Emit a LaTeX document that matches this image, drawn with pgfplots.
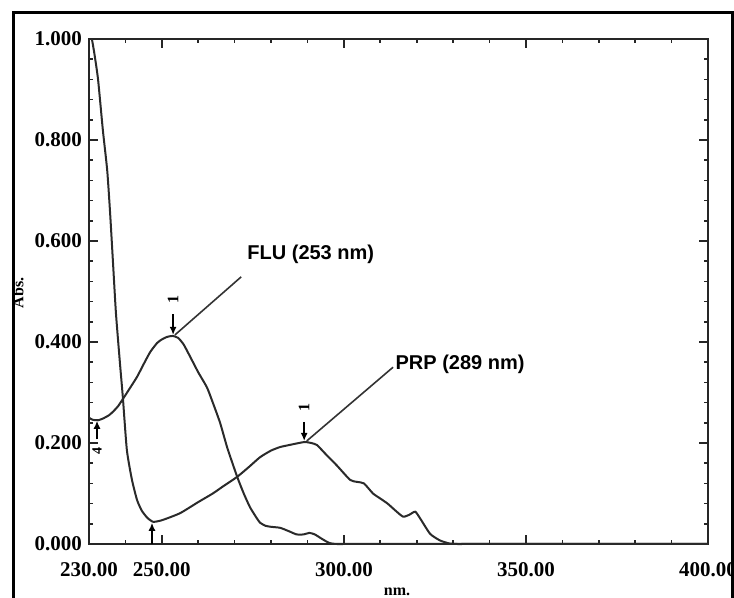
\documentclass[border=0pt]{standalone}
\usepackage{pgfplots}
\pgfplotsset{compat=1.18}
\usepackage{fontspec}
\setmainfont{Liberation Serif}
\newfontfamily\annfont{Liberation Sans}
\usetikzlibrary{arrows.meta}
\definecolor{Curve}{HTML}{2A2A2A}

% spectra (nm, Abs.)
\pgfplotstableread{
nm abs
230.8 1.000
231.5 0.970
232.5 0.919
233.8 0.820
235.0 0.740
235.8 0.655
236.6 0.556
237.4 0.457
238.5 0.358
239.3 0.290
240.4 0.186
241.8 0.127
243.2 0.087
244.5 0.066
246.0 0.052
247.6 0.044
250.0 0.047
255.0 0.061
260.0 0.083
264.0 0.100
267.0 0.115
270.7 0.133
274.0 0.153
277.0 0.172
280.0 0.185
282.5 0.192
285.0 0.196
287.0 0.199
289.3 0.202
291.0 0.200
292.6 0.196
295.0 0.178
298.0 0.156
301.7 0.127
303.6 0.123
305.5 0.120
308.0 0.100
310.0 0.090
312.0 0.080
314.5 0.064
316.3 0.054
318.0 0.058
319.6 0.064
321.0 0.050
323.7 0.020
326.4 0.007
329.0 0.001
331.0 0.000
333.0 0.000
336.0 0.000
400.0 0.000
}\prp

\pgfplotstableread{
nm abs
230.0 0.250
231.0 0.246
232.5 0.245
234.0 0.249
235.5 0.255
236.6 0.262
238.0 0.273
239.3 0.287
241.0 0.306
243.2 0.331
245.0 0.356
246.8 0.380
248.7 0.398
250.0 0.405
251.4 0.410
253.0 0.412
254.5 0.408
256.0 0.395
257.7 0.372
260.0 0.340
262.4 0.310
264.0 0.280
266.0 0.240
268.0 0.190
270.7 0.133
272.5 0.100
274.2 0.073
276.0 0.052
277.0 0.042
278.5 0.036
280.0 0.034
282.5 0.032
285.0 0.025
287.0 0.019
289.0 0.019
290.5 0.022
292.0 0.019
294.0 0.010
296.0 0.002
298.0 0.000
300.0 0.000
303.0 0.000
400.0 0.000
}\flu

\begin{document}
\begin{tikzpicture}
\begin{axis}[at={(44.5pt,27pt)},anchor=south west,scale only axis,
  width=309.5pt,height=252.5pt,
  xmin=230,xmax=400,ymin=0,ymax=1,
  axis line style={line width=1pt,black!85},
  tick align=inside,tick pos=both,
  major tick length=4.5pt,minor tick length=2pt,
  every tick/.style={black!85,line width=0.8pt},
  xtick={230,250,300,350,400},
  xticklabels={230.00,250.00,300.00,350.00,400.00},
  minor xtick={240,260,270,280,290,310,320,330,340,360,370,380,390},
  ytick={0,0.2,0.4,0.6,0.8,1},
  yticklabels={0.000,0.200,0.400,0.600,0.800,1.000},
  minor y tick num=4,
  tick label style={font=\fontsize{10.5}{12}\selectfont\bfseries},
  xticklabel style={yshift=-5.5pt},
  clip=false]
\addplot[Curve,line width=1pt,no marks,smooth,tension=0.35] table[x=nm,y=abs]{\prp};
\addplot[Curve,line width=1pt,no marks,smooth,tension=0.35] table[x=nm,y=abs]{\flu};

% peak / valley markers
\draw[line width=0.8pt,-{Latex[length=4pt,width=3.5pt]}] (axis cs:253.1,0.455) -- (axis cs:253.1,0.414);
\node[rotate=90,font=\fontsize{8}{9}\selectfont\bfseries] at (axis cs:253.1,0.484) {1};
\draw[line width=0.8pt,-{Latex[length=4pt,width=3.5pt]}] (axis cs:289.1,0.242) -- (axis cs:289.1,0.204);
\node[rotate=90,font=\fontsize{8}{9}\selectfont\bfseries] at (axis cs:289.1,0.270) {1};
\draw[line width=0.8pt,-{Latex[length=4pt,width=3.5pt]}] (axis cs:232.2,0.207) -- (axis cs:232.2,0.244);
\node[rotate=90,font=\fontsize{7}{8}\selectfont\bfseries] at (axis cs:232.2,0.185) {4};
\draw[line width=0.8pt,-{Latex[length=4pt,width=3.5pt]}] (axis cs:247.3,0.0) -- (axis cs:247.3,0.042);

% leader lines and labels
\draw[black!80,line width=0.8pt] (axis cs:253.6,0.414) -- (axis cs:271.8,0.529);
\node[anchor=west,inner sep=0pt,font=\annfont\fontsize{10}{12}\selectfont\bfseries] at (axis cs:273.4,0.574) {FLU (253 nm)};
\draw[black!80,line width=0.8pt] (axis cs:289.8,0.204) -- (axis cs:313.5,0.350);
\node[anchor=west,inner sep=0pt,font=\annfont\fontsize{10}{12}\selectfont\bfseries] at (axis cs:314.1,0.356) {PRP (289 nm)};
\end{axis}

% axis titles and outer frame
\node[rotate=90,font=\fontsize{8}{9}\selectfont\bfseries] at (9pt,152.5pt) {Abs.};
\node[font=\fontsize{8}{9}\selectfont\bfseries] at (198.5pt,3pt) {nm.};
\draw[line width=1.5pt] (6.5pt,-10pt) -- (6.5pt,292.5pt) -- (366pt,292.5pt) -- (366pt,-10pt);

\pgfresetboundingbox
\useasboundingbox (0,0) rectangle (367pt,299pt);
\end{tikzpicture}
\end{document}
